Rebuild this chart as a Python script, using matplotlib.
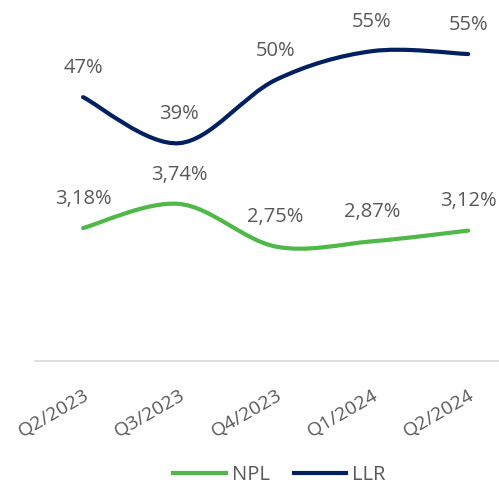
import numpy as np
import matplotlib
matplotlib.use("Agg")
import matplotlib.pyplot as plt
from matplotlib.path import Path
from matplotlib.patches import PathPatch
from matplotlib.lines import Line2D

# ============================================================
# DATA
# ============================================================

quarters = ["Q2/2023", "Q3/2023", "Q4/2023", "Q1/2024", "Q2/2024"]
npl = [3.18, 3.74, 2.75, 2.87, 3.12]
llr = [47.0, 39.0, 50.0, 55.0, 54.5]
npl_labels = ["3,18%", "3,74%", "2,75%", "2,87%", "3,12%"]
llr_labels = ["47%", "39%", "50%", "55%", "55%"]

NPL_COLOR = "#4FB848"
LLR_COLOR = "#002060"
TEXT_COLOR = "#595959"

plt.rcParams["font.family"] = ["Open Sans", "DejaVu Sans"]


def smooth_path(xs, ys, tension=1 / 6):
    """Excel-like smoothed line built from cubic bezier segments."""
    pts = np.column_stack([xs, ys]).astype(float)
    n = len(pts)
    verts = [pts[0]]
    codes = [Path.MOVETO]
    for i in range(n - 1):
        p0 = pts[i - 1] if i > 0 else pts[i]
        p1 = pts[i]
        p2 = pts[i + 1]
        p3 = pts[i + 2] if i + 2 < n else pts[i + 1]
        c1 = p1 + (p2 - p0) * tension
        c2 = p2 - (p3 - p1) * tension
        verts += [c1, c2, p2]
        codes += [Path.CURVE4] * 3
    return Path(verts, codes)


fig = plt.figure(figsize=(4.99, 4.86), dpi=100)
ax = fig.add_axes([0.070, 0.257, 0.930, 0.743])
ax2 = ax.twinx()

x = np.arange(len(quarters))

ax.add_patch(PathPatch(smooth_path(x, npl), facecolor="none",
                       edgecolor=NPL_COLOR, lw=3.0, capstyle="round"))
ax2.add_patch(PathPatch(smooth_path(x, llr), facecolor="none",
                        edgecolor=LLR_COLOR, lw=3.0, capstyle="round"))

ax.set_xlim(-0.5, 4.32)
ax.set_ylim(0.087, 8.48)
ax2.set_ylim(1.1, 63.9)

# Data labels
for xi, v, lab in zip(x, npl, npl_labels):
    ax.annotate(lab, (xi, v), xytext=(0, 21), textcoords="offset points",
                ha="center", va="center", fontsize=14.5, color=TEXT_COLOR)
for xi, v, lab in zip(x, llr, llr_labels):
    ax2.annotate(lab, (xi, v), xytext=(0, 21), textcoords="offset points",
                 ha="center", va="center", fontsize=14.5, color=TEXT_COLOR)

# Axes styling
for a in (ax, ax2):
    for side in ("top", "right", "left"):
        a.spines[side].set_visible(False)
    a.set_yticks([])
ax2.spines["bottom"].set_visible(False)
ax.spines["bottom"].set_color("#D9D9D9")
ax.spines["bottom"].set_linewidth(1.2)

ax.set_xticks(x)
ax.set_xticklabels(quarters, rotation=30, ha="right", va="top",
                   rotation_mode="anchor", fontsize=14, color=TEXT_COLOR)
ax.tick_params(axis="x", length=0, pad=18)

# Legend
handles = [Line2D([], [], color=NPL_COLOR, lw=3.0),
           Line2D([], [], color=LLR_COLOR, lw=3.0)]
fig.legend(handles, ["NPL", "LLR"], loc="center", bbox_to_anchor=(0.56, 0.023),
           ncol=2, frameon=False, fontsize=14.5, labelcolor=TEXT_COLOR,
           handlelength=2.6, handletextpad=0.3, columnspacing=1.2,
           borderpad=0, borderaxespad=0)

fig.savefig("out.png", dpi=100)
